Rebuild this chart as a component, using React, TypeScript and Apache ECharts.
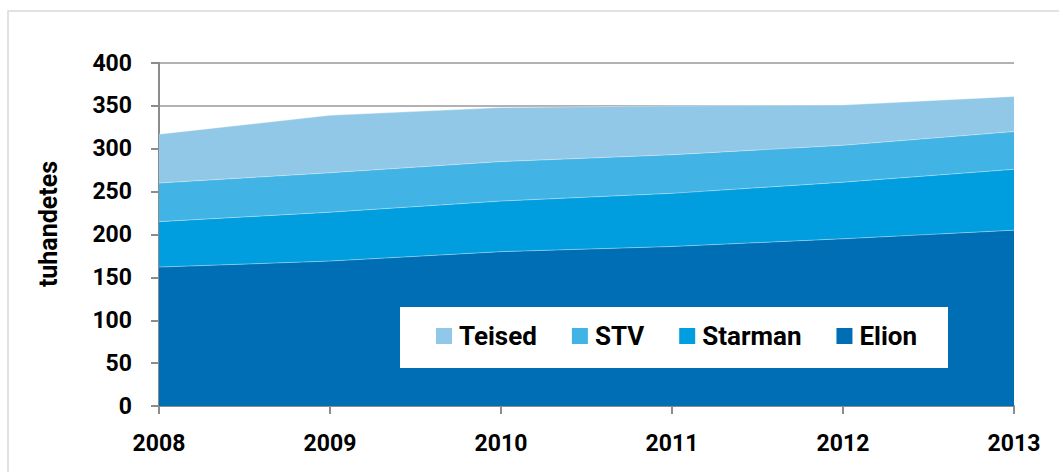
import React, { useEffect, useRef } from "react";
import * as echarts from "echarts";

const years = ["2008", "2009", "2010", "2011", "2012", "2013"];
const elion = [162, 169, 180, 186, 195, 205];
const starman = [53, 57, 59, 62, 66, 71];
const stv = [45, 46, 46, 45, 43, 44];
const teised = [57, 67, 63, 57, 47, 41];
const legendOrder = ["Teised", "STV", "Starman", "Elion"];
const yAxisName = "tuhandetes";

const colors = {
  Elion: "#006EB5",
  Starman: "#009EDE",
  STV: "#41B4E5",
  Teised: "#92C8E7",
};

const FONT = "Roboto";

export default function App() {
  const ref = useRef<HTMLDivElement>(null);
  useEffect(() => {
    document.body.style.margin = "0";
    const chart = echarts.init(ref.current!, null, { renderer: "svg" });
    const mk = (name: string, data: number[]) => ({
      name,
      type: "line",
      stack: "total",
      data,
      symbol: "none",
      lineStyle: { width: 1, color: "rgba(255,255,255,0.35)" },
      itemStyle: { color: (colors as any)[name] },
      areaStyle: { color: (colors as any)[name], opacity: 1 },
    });
    chart.setOption({
      animation: false,
      backgroundColor: "#fff",
      graphic: [
        {
          type: "rect",
          shape: { x: 8, y: 11, width: 1060, height: 470 },
          style: { fill: "none", stroke: "#d9d9d9", lineWidth: 1.5 },
          z: -10,
          silent: true,
        },
        {
          type: "rect",
          shape: { x: 400, y: 307, width: 548, height: 61 },
          style: { fill: "#fff" },
          z: 50,
          silent: true,
        },
        {
          type: "text",
          x: 48,
          y: 224,
          rotation: Math.PI / 2,
          z: 60,
          style: {
            text: yAxisName,
            fontFamily: FONT,
            fontWeight: "bold",
            fontSize: 25,
            fill: "#000",
            align: "center",
            verticalAlign: "middle",
          },
        },
      ],
      grid: { left: 159, right: 45, top: 63, bottom: 66 },
      legend: {
        data: legendOrder,
        left: 436,
        top: 323,
        z: 60,
        icon: "rect",
        itemWidth: 16,
        itemHeight: 16,
        itemGap: 35,
        padding: 0,
        textStyle: {
          fontFamily: FONT,
          fontWeight: "bold",
          fontSize: 26,
          color: "#000",
          padding: [0, 0, 0, 2],
        },
      },
      xAxis: {
        type: "category",
        data: years,
        boundaryGap: false,
        axisLine: { lineStyle: { color: "#8c8c8c", width: 2 } },
        axisTick: { show: true, length: 8, lineStyle: { color: "#8c8c8c", width: 2 } },
        axisLabel: {
          margin: 26,
          fontFamily: FONT,
          fontWeight: "bold",
          fontSize: 23,
          color: "#000",
        },
        splitLine: { show: false },
      },
      yAxis: {
        type: "value",
        min: 0,
        max: 400,
        interval: 50,
        axisLine: { show: true, lineStyle: { color: "#8c8c8c", width: 2 } },
        axisTick: { show: true, length: 8, lineStyle: { color: "#8c8c8c", width: 2 } },
        axisLabel: {
          margin: 27,
          fontFamily: FONT,
          fontWeight: "bold",
          fontSize: 23,
          color: "#000",
        },
        splitLine: { show: true, lineStyle: { color: "#999", width: 1.5 } },
      },
      series: [
        mk("Elion", elion),
        mk("Starman", starman),
        mk("STV", stv),
        mk("Teised", teised),
      ],
    });
    return () => chart.dispose();
  }, []);
  return <div ref={ref} style={{ width: 1059, height: 472 }} />;
}
